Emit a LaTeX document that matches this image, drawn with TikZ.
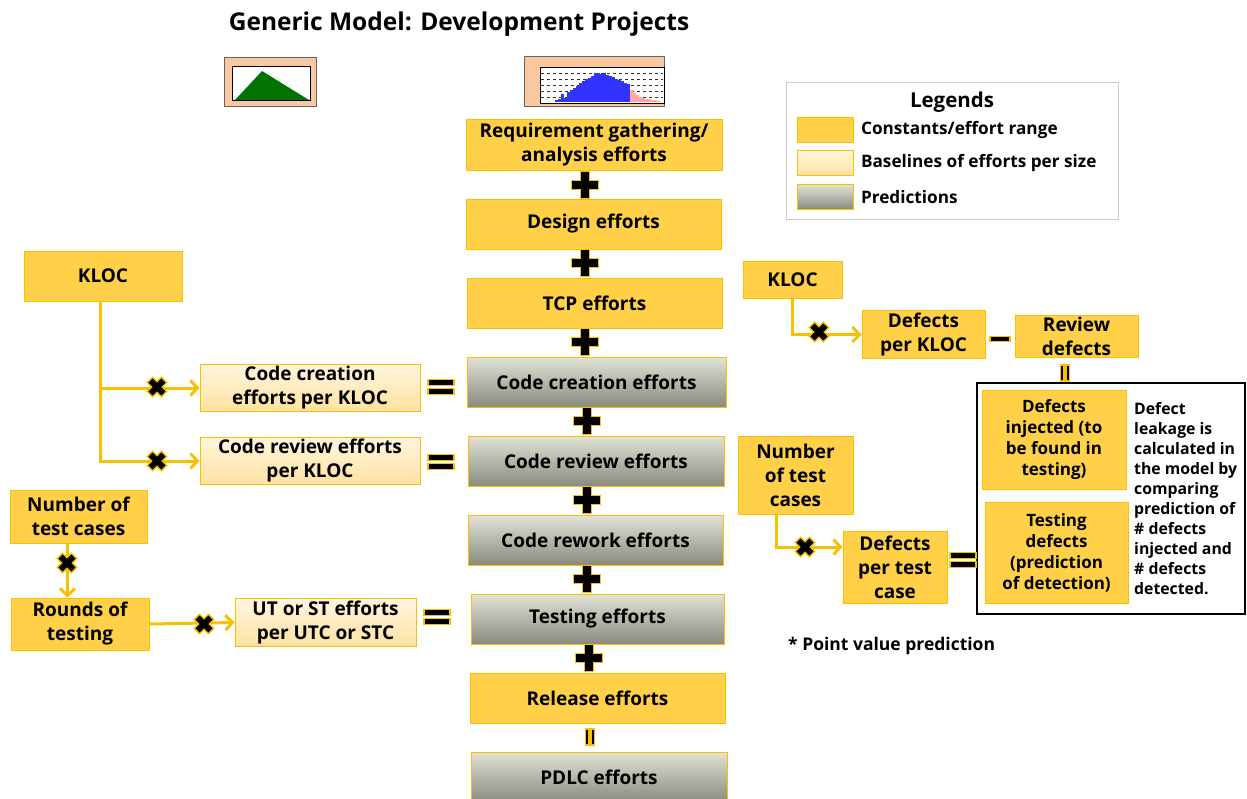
\documentclass[tikz,border=0pt]{standalone}
\usepackage{fontspec}
\setmainfont{Open Sans}
\usetikzlibrary{positioning,arrows.meta}

\definecolor{gold}{RGB}{255,208,72}
\definecolor{goldline}{RGB}{247,192,0}
\definecolor{paleA}{RGB}{255,245,222}
\definecolor{paleB}{RGB}{255,226,160}
\definecolor{greyA}{RGB}{226,226,214}
\definecolor{greyB}{RGB}{138,138,126}
\definecolor{peach}{RGB}{250,200,160}

\tikzset{
  box/.style={draw=goldline, line width=1pt, align=center, inner sep=2pt,
    font=\fontsize{19}{24}\selectfont\bfseries},
  const/.style={box, fill=gold},
  base/.style={box, top color=paleA, bottom color=paleB},
  pred/.style={box, top color=greyA, bottom color=greyB},
  conn/.style={draw=goldline, line width=3pt, -{Straight Barb[length=7pt,width=15pt,line width=3pt]}},
  symb/.style={fill=black, draw=goldline, line width=1.3pt, line join=miter},
  plusmark/.pic={\path[symb] (-13.5,-4.5) -- (-4.5,-4.5) -- (-4.5,-13.5) -- (4.5,-13.5) -- (4.5,-4.5) -- (13.5,-4.5)
    -- (13.5,4.5) -- (4.5,4.5) -- (4.5,13.5) -- (-4.5,13.5) -- (-4.5,4.5) -- (-13.5,4.5) -- cycle;},
  timesmark/.pic={\path[symb, rotate=45] (-10,-3.8) -- (-3.8,-3.8) -- (-3.8,-10) -- (3.8,-10) -- (3.8,-3.8) -- (10,-3.8)
    -- (10,3.8) -- (3.8,3.8) -- (3.8,10) -- (-3.8,10) -- (-3.8,3.8) -- (-10,3.8) -- cycle;},
  eqmark/.pic={\path[symb] (-13,-7.5) rectangle (13,-1.5); \path[symb] (-13,1.5) rectangle (13,7.5);},
  minusmark/.pic={\path[symb] (-10,-2.5) rectangle (10,2.5);},
}

\begin{document}
\begin{tikzpicture}[x=1pt, y=-1pt]
\useasboundingbox (0,0) rectangle (1247,798);

% title
\node (title) at (459,24) {\fontsize{24.5}{28}\selectfont\bfseries Generic Model: Development Projects};

% small charts
\draw[fill=peach, draw=black!60] (224,57) rectangle (316,106);
\draw[fill=white, line width=0.8pt] (232,66) rectangle (310,100);
\fill[green!45!black] (235,100) -- (262,71) -- (309,100) -- cycle;
\draw[fill=peach, draw=black!60] (524,56) rectangle (664,106);
\draw[fill=white, line width=0.8pt] (540,67) rectangle (664,103);
\foreach \yy in {73,79,85,91,97}
  \draw[dashed, black!80, line width=0.8pt] (541,\yy) -- (663,\yy);
\foreach \h [count=\i] in {2,3,8,4,10,12,14,16,19,21,23,24,26,29,29,28,29,27,26,25,23,22,21,19,18}
  \fill[blue!80] (552+\i*3,102) rectangle (555+\i*3,102-\h);
\foreach \h [count=\i] in {12,9,7,5,4,3,3,2,2,1}
  \fill[red!35] (627+\i*3,102) rectangle (630+\i*3,102-\h);

% legend
\draw[black!20, line width=1pt] (786,82) rectangle (1118,219);
\node (legtitle) at (952,102) {\fontsize{20.5}{24}\selectfont\bfseries Legends};
\node[const, minimum width=56pt, minimum height=25pt] (lg1) at (825,129.5) {};
\node[base, minimum width=56pt, minimum height=25pt] (lg2) at (825,163) {};
\node[pred, minimum width=56pt, minimum height=25pt] (lg3) at (825,197) {};
\node[right=4pt of lg1, font=\fontsize{17.2}{20}\selectfont\bfseries] {Constants/effort range};
\node[right=4pt of lg2, font=\fontsize{17.2}{20}\selectfont\bfseries] {Baselines of efforts per size};
\node[right=4pt of lg3, font=\fontsize{17.2}{20}\selectfont\bfseries] {Predictions};

% central column
\node[const, minimum width=256pt, minimum height=51pt] (req) at (594,144.5) {Requirement gathering/\\analysis efforts};
\node[const, minimum width=255pt, minimum height=50pt] (design) at (593.5,224) {Design efforts};
\node[const, minimum width=255pt, minimum height=50pt] (tcp) at (594.5,303) {TCP efforts};
\node[pred, minimum width=259pt, minimum height=50pt] (ccode) at (596.5,382) {Code creation efforts};
\node[pred, minimum width=256pt, minimum height=50pt] (creview) at (596,461) {Code review efforts};
\node[pred, minimum width=255pt, minimum height=50pt] (crework) at (595.5,540) {Code rework efforts};
\node[pred, minimum width=253pt, minimum height=50pt] (testing) at (597.5,619) {Testing efforts};
\node[const, minimum width=255pt, minimum height=50pt] (release) at (597.5,698) {Release efforts};
\node[pred, minimum width=256pt, minimum height=50pt] (pdlc) at (599,777) {PDLC efforts};
\foreach \xx/\yy in {585/185,585/263,585/342,587/421,587/500,587/579,589/658}
  \pic at (\xx,\yy) {plusmark};
\pic[rotate=90, scale=0.62] at (590,737) {eqmark};

% left side
\node[const, minimum width=158pt, minimum height=50pt] (kloc) at (103,276) {KLOC};
\node[base, minimum width=220pt, minimum height=44pt] (ccpk) at (310,388) {Code creation\\efforts per KLOC};
\node[base, minimum width=220pt, minimum height=46pt] (crpk) at (310,461) {Code review efforts\\per KLOC};
\draw[conn] ([xshift=-3pt]kloc.south) |- (ccpk.west);
\draw[conn] ([xshift=-3pt]kloc.south) |- (crpk.west);
\pic at (157,387) {timesmark};
\pic at (157,461) {timesmark};
\pic at (441,387) {eqmark};
\pic at (441,462) {eqmark};

\node[const, minimum width=137pt, minimum height=53pt] (ntc) at (78.5,516.5) {Number of\\test cases};
\node[const, minimum width=138pt, minimum height=52pt] (rounds) at (80,624) {Rounds of\\testing};
\node[base, minimum width=181pt, minimum height=47pt] (utst) at (325.5,622.5) {UT or ST efforts\\per UTC or STC};
\draw[conn] ([xshift=-11pt]ntc.south) -- ([xshift=-11pt]ntc.south |- rounds.north);
\draw[conn] (rounds.east) -- (utst.west);
\pic at (67,563) {timesmark};
\pic at (204,624) {timesmark};
\pic at (437,617) {eqmark};

% right side
\node[const, minimum width=99pt, minimum height=37pt] (kloc2) at (792.5,279.5) {KLOC};
\node[const, minimum width=123pt, minimum height=41pt] (dpk) at (923.5,334.5) {Defects\\per KLOC};
\node[const, minimum width=123pt, minimum height=39pt] (rdef) at (1076.5,336.5) {Review\\defects};
\draw[conn] (kloc2.south) |- (dpk.west);
\pic at (819,332) {timesmark};
\pic at (1000,339) {minusmark};
\pic[rotate=90, scale=0.62] at (1065,373) {eqmark};

\draw[black, line width=1.5pt] (977,383) rectangle (1245,614);
\node[const, minimum width=144pt, minimum height=99pt, font=\fontsize{17}{21}\selectfont\bfseries] (dinj) at (1054,439.5) {Defects\\injected (to\\be found in\\testing)};
\node[const, minimum width=143pt, minimum height=101pt, font=\fontsize{17}{21}\selectfont\bfseries] (tdef) at (1056.5,552.5) {Testing\\defects\\(prediction\\of detection)};
\node[anchor=north west, align=left, inner sep=0pt, font=\fontsize{15.8}{20}\selectfont\bfseries] (leak) at (1134,402)
  {Defect\\leakage is\\calculated in\\the model by\\comparing\\prediction of\\\# defects\\injected and\\\# defects\\detected.};

\node[const, minimum width=115pt, minimum height=78pt] (ntc2) at (795.5,475) {Number\\of test\\cases};
\node[const, minimum width=104pt, minimum height=72pt] (dptc) at (895,567) {Defects\\per test\\case};
\draw[conn] ([xshift=-19.5pt]ntc2.south) |- ([yshift=20pt]dptc.west);
\pic at (805,547) {timesmark};
\pic at (963,560) {eqmark};

\node[anchor=west, inner sep=0pt, font=\fontsize{17.5}{20}\selectfont\bfseries] (note) at (788,646) {* Point value prediction};
\end{tikzpicture}
\end{document}
